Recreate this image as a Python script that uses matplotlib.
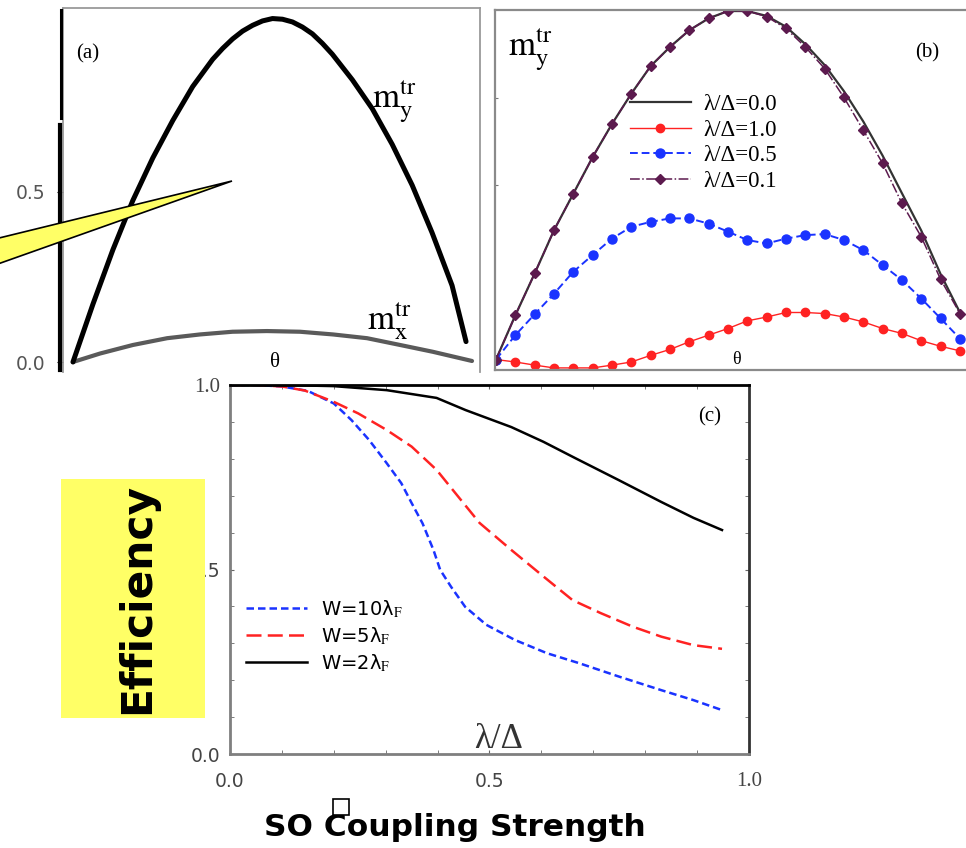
import numpy as np
import matplotlib
matplotlib.use("Agg")
import matplotlib.pyplot as plt
from matplotlib.patches import Rectangle, Polygon
from matplotlib.lines import Line2D

# Bildgroesse in Pixel (Referenz)
W, H = 966, 848

# ---------------- Daten Panel (a) ----------------
theta_a_y = [0.0, 0.05, 0.10, 0.15, 0.20, 0.25, 0.30, 0.35, 0.375, 0.40, 0.425,
             0.45, 0.475, 0.50, 0.525, 0.55, 0.575, 0.60, 0.625, 0.65, 0.70,
             0.75, 0.80, 0.85, 0.90, 0.95, 0.985]
m_y_a = [0.0, 0.17, 0.33, 0.475, 0.60, 0.71, 0.81, 0.89, 0.922, 0.95, 0.973,
         0.99, 1.003, 1.01, 1.008, 1.0, 0.985, 0.965, 0.937, 0.905, 0.83,
         0.745, 0.64, 0.52, 0.38, 0.225, 0.06]
theta_a_x = [0.0, 0.068, 0.15, 0.236, 0.318, 0.40, 0.486, 0.569, 0.652, 0.737,
             0.82, 0.902, 1.0]
m_x_a = [0.0, 0.025, 0.05, 0.07, 0.081, 0.089, 0.091, 0.089, 0.081, 0.07,
         0.05, 0.03, 0.003]

# ---------------- Daten Panel (b) ----------------
theta_b = np.arange(25)
lam_00 = [0.0, 0.127, 0.247, 0.371, 0.476, 0.581, 0.676, 0.763, 0.842, 0.897,
          0.945, 0.979, 1.0, 1.0, 0.986, 0.955, 0.905, 0.845, 0.77, 0.683,
          0.585, 0.477, 0.37, 0.245, 0.135]
lam_10 = [0.0, -0.007, -0.016, -0.024, -0.024, -0.024, -0.016, -0.007, 0.012,
          0.029, 0.051, 0.070, 0.089, 0.111, 0.122, 0.135, 0.135, 0.132, 0.122,
          0.108, 0.089, 0.075, 0.054, 0.038, 0.025]
lam_05 = [0.0, 0.070, 0.130, 0.189, 0.252, 0.300, 0.347, 0.381, 0.395, 0.405,
          0.405, 0.390, 0.367, 0.343, 0.333, 0.347, 0.357, 0.360, 0.343, 0.314,
          0.271, 0.228, 0.175, 0.118, 0.060]
lam_01 = [0.0, 0.127, 0.247, 0.371, 0.476, 0.581, 0.676, 0.763, 0.842, 0.897,
          0.945, 0.979, 1.0, 1.0, 0.984, 0.950, 0.897, 0.835, 0.752, 0.658,
          0.563, 0.448, 0.352, 0.230, 0.132]
legend_b = ["λ/Δ=0.0", "λ/Δ=1.0", "λ/Δ=0.5", "λ/Δ=0.1"]

# ---------------- Daten Panel (c) ----------------
w10_x = [0.0, 0.05, 0.10, 0.15, 0.20, 0.234, 0.268, 0.302, 0.330, 0.350, 0.371,
         0.392, 0.405, 0.426, 0.453, 0.494, 0.549, 0.611, 0.673, 0.749, 0.831,
         0.893, 0.948]
w10_y = [1.0, 1.0, 0.996, 0.984, 0.950, 0.905, 0.851, 0.788, 0.734, 0.680, 0.625,
         0.553, 0.499, 0.453, 0.399, 0.350, 0.309, 0.273, 0.246, 0.210, 0.173,
         0.146, 0.119]
w5_x = [0.0, 0.05, 0.10, 0.144, 0.199, 0.247, 0.302, 0.350, 0.398, 0.440, 0.481,
        0.542, 0.604, 0.660, 0.714, 0.776, 0.831, 0.893, 0.948]
w5_y = [1.0, 1.0, 0.996, 0.985, 0.955, 0.923, 0.878, 0.833, 0.770, 0.697, 0.626,
        0.553, 0.481, 0.417, 0.382, 0.345, 0.318, 0.295, 0.285]
w2_x = [0.0, 0.10, 0.199, 0.302, 0.398, 0.454, 0.542, 0.604, 0.665, 0.748, 0.831,
        0.893, 0.948]
w2_y = [1.0, 1.0, 0.997, 0.986, 0.965, 0.932, 0.886, 0.846, 0.802, 0.743, 0.683,
        0.640, 0.607]
legend_c = ["W=10λ$_{\\rm F}$", "W=5λ$_{\\rm F}$", "W=2λ$_{\\rm F}$"]

SERIF = "Liberation Serif"
SANS = "DejaVu Sans"
plt.rcParams["mathtext.fontset"] = "stix"


def fx(px):
    return px / W


def fy(py):
    return 1 - py / H


def box(left, top, right, bottom):
    # Pixelrahmen -> Figurkoordinaten
    return [fx(left), fy(bottom), (right - left) / W, (bottom - top) / H]


fig = plt.figure(figsize=(W / 100, H / 100), dpi=100)

# ---------------- Panel (a) ----------------
ax_a = fig.add_axes(box(63, 8, 480, 372))
ax_a.plot(theta_a_x, m_x_a, color="#5a5a5a", lw=3.0, solid_capstyle="round",
          solid_joinstyle="round")
ax_a.plot(theta_a_y, m_y_a, color="black", lw=3.6, solid_capstyle="round",
          solid_joinstyle="round")
ax_a.set_xlim(-0.025, 1.02)
ax_a.set_ylim(-0.0294, 1.041)
ax_a.set_xticks([])
ax_a.set_yticks([0.0, 0.5])
ax_a.set_yticklabels(["0.0", "0.5"], fontsize=13.5, color="#555555", fontfamily=SANS)
ax_a.tick_params(axis="y", direction="out", length=4, pad=9, color="black")
for side in ["top", "right", "left"]:
    ax_a.spines[side].set_color("#9a9a9a")
    ax_a.spines[side].set_linewidth(1.3)
ax_a.spines["bottom"].set_visible(False)
ax_a.text(0.06, 0.874, "(a)", transform=ax_a.transAxes, fontsize=15,
          fontfamily=SERIF, ha="center", va="center")
ax_a.text(0.74, 0.745, r"$\mathrm{m}_{\mathrm{y}}^{\mathrm{tr}}$", transform=ax_a.transAxes,
          fontsize=25, ha="left", va="center")
ax_a.text(0.73, 0.14, r"$\mathrm{m}_{\mathrm{x}}^{\mathrm{tr}}$", transform=ax_a.transAxes,
          fontsize=25, ha="left", va="center")
ax_a.text(0.509, 0.027, "θ", transform=ax_a.transAxes, fontsize=15,
          fontfamily=SERIF, ha="center", va="center")

# ---------------- Panel (b) ----------------
ax_b = fig.add_axes(box(495, 10, 970, 370))
ax_b.plot(theta_b, lam_00, color="#333333", lw=1.6, label=legend_b[0])
ax_b.plot(theta_b, lam_10, color="#ff2222", lw=1.0, marker="o", ms=6,
          label=legend_b[1])
ax_b.plot(theta_b, lam_05, color="#1a33ff", lw=1.4, ls=(0, (4, 2)), marker="o",
          ms=6.5, label=legend_b[2])
ax_b.plot(theta_b, lam_01, color="#5c1a4e", lw=1.1, ls="-.", marker="D", ms=5.5,
          label=legend_b[3])
ax_b.set_xlim(-0.052, 24.52)
ax_b.set_ylim(-0.030, 1.003)
ax_b.set_xticks([])
ax_b.set_yticks([0.5, 0.75])
ax_b.set_yticklabels([])
ax_b.tick_params(axis="y", direction="in", length=2, color="#777777")
for side in ["top", "left", "bottom"]:
    ax_b.spines[side].set_color("#8a8a8a")
    ax_b.spines[side].set_linewidth(1.6)
ax_b.spines["right"].set_visible(False)
ax_b.text(0.075, 0.89, r"$\mathrm{m}_{\mathrm{y}}^{\mathrm{tr}}$", transform=ax_b.transAxes,
          fontsize=25, ha="center", va="center")
ax_b.text(0.909, 0.88, "(b)", transform=ax_b.transAxes, fontsize=15,
          fontfamily=SERIF, ha="center", va="center")
ax_b.text(0.508, 0.03, "θ", transform=ax_b.transAxes, fontsize=13,
          fontfamily=SERIF, ha="center", va="center")
ax_b.legend(loc="upper left", bbox_to_anchor=(fx(630), fy(94)),
            bbox_transform=fig.transFigure, frameon=False, borderpad=0,
            borderaxespad=0, handlelength=2.65, handletextpad=0.55,
            labelspacing=0.2, prop={"family": SERIF, "size": 16.5})

# ---------------- Panel (c) ----------------
ax_c = fig.add_axes(box(230, 385, 749, 754))
ax_c.plot(w10_x, w10_y, color="#1a33ff", lw=1.8, ls=(0, (3, 1.6)), label=legend_c[0])
ax_c.plot(w5_x, w5_y, color="#ff2222", lw=1.8, ls=(0, (6, 2.5)), label=legend_c[1])
ax_c.plot(w2_x, w2_y, color="black", lw=1.8, label=legend_c[2])
ax_c.set_xlim(0, 1)
ax_c.set_ylim(0, 1)
ax_c.set_xticks([0.0, 0.5, 1.0])
ax_c.set_xticklabels(["0.0", "0.5", "1.0"], fontsize=13.5, color="#444444",
                     fontfamily=SANS)
ax_c.set_yticks([0.0, 0.5, 1.0])
ax_c.set_yticklabels(["0.0", "0.5", "1.0"], fontsize=13.5, color="#444444",
                     fontfamily=SANS)
ax_c.set_xticks(np.arange(0.1, 1.0, 0.1), minor=True)
ax_c.set_yticks(np.arange(0.1, 1.0, 0.1), minor=True)
ax_c.tick_params(which="both", direction="in", length=3, color="#666666",
                 top=True, right=True)
ax_c.tick_params(axis="x", pad=13)
ax_c.tick_params(axis="y", pad=7)
ax_c.get_xticklabels()[2].set_fontfamily(SERIF)
ax_c.get_xticklabels()[2].set_fontsize(15)
ax_c.get_yticklabels()[2].set_fontfamily(SERIF)
ax_c.get_yticklabels()[2].set_fontsize(15)
ax_c.spines["left"].set_color("#7f7f7f")
ax_c.spines["bottom"].set_color("#7f7f7f")
ax_c.spines["top"].set_color("black")
ax_c.spines["right"].set_color("#333333")
for side in ["left", "bottom", "top", "right"]:
    ax_c.spines[side].set_linewidth(2.0)
ax_c.text(0.925, 0.915, "(c)", transform=ax_c.transAxes, fontsize=15,
          fontfamily=SERIF, ha="center", va="center")
ax_c.text(0.517, 0.04, "λ/Δ", transform=ax_c.transAxes, fontsize=25,
          fontfamily=SERIF, color="#333333", ha="center", va="center")
ax_c.legend(loc="upper left", bbox_to_anchor=(fx(246), fy(598)),
            bbox_transform=fig.transFigure, frameon=False, borderpad=0,
            borderaxespad=0, handlelength=3.15, handletextpad=0.7,
            labelspacing=0.27, prop={"family": SANS, "size": 14})

# ---------------- Dekoration ----------------
# schwarze Linien links an Panel (a)
fig.add_artist(Line2D([fx(61.5), fx(61.5)], [fy(10), fy(118)], color="black", lw=2.2))
fig.add_artist(Line2D([fx(60), fx(60)], [fy(125), fy(370)], color="black", lw=3.0))

# gelber Keil (Sprechblase)
fig.add_artist(Polygon([(fx(-5), fy(239)), (fx(232), fy(181)), (fx(-5), fy(265))],
                       closed=True, transform=fig.transFigure,
                       facecolor="#ffff66", edgecolor="black", lw=1.2, zorder=5))

# gelbes Feld mit "Efficiency"
fig.add_artist(Rectangle((fx(61), fy(718)), (205 - 61) / W, (718 - 479) / H,
                         transform=fig.transFigure, facecolor="#ffff66",
                         edgecolor="none", zorder=5))
fig.text(fx(137), fy(598), "Efficiency", rotation=90, fontsize=30.5,
         fontweight="bold", fontfamily=SANS, ha="center", va="center", zorder=6)

# Beschriftung unten
fig.text(fx(455), fy(828), "SO Coupling Strength", fontsize=22.5, fontweight="bold",
         fontfamily=SANS, ha="center", va="center")
fig.add_artist(Rectangle((fx(333), fy(815)), 16 / W, 16 / H,
                         transform=fig.transFigure, facecolor="white",
                         edgecolor="black", lw=1.2, zorder=6))

fig.savefig("out.png", dpi=100)
